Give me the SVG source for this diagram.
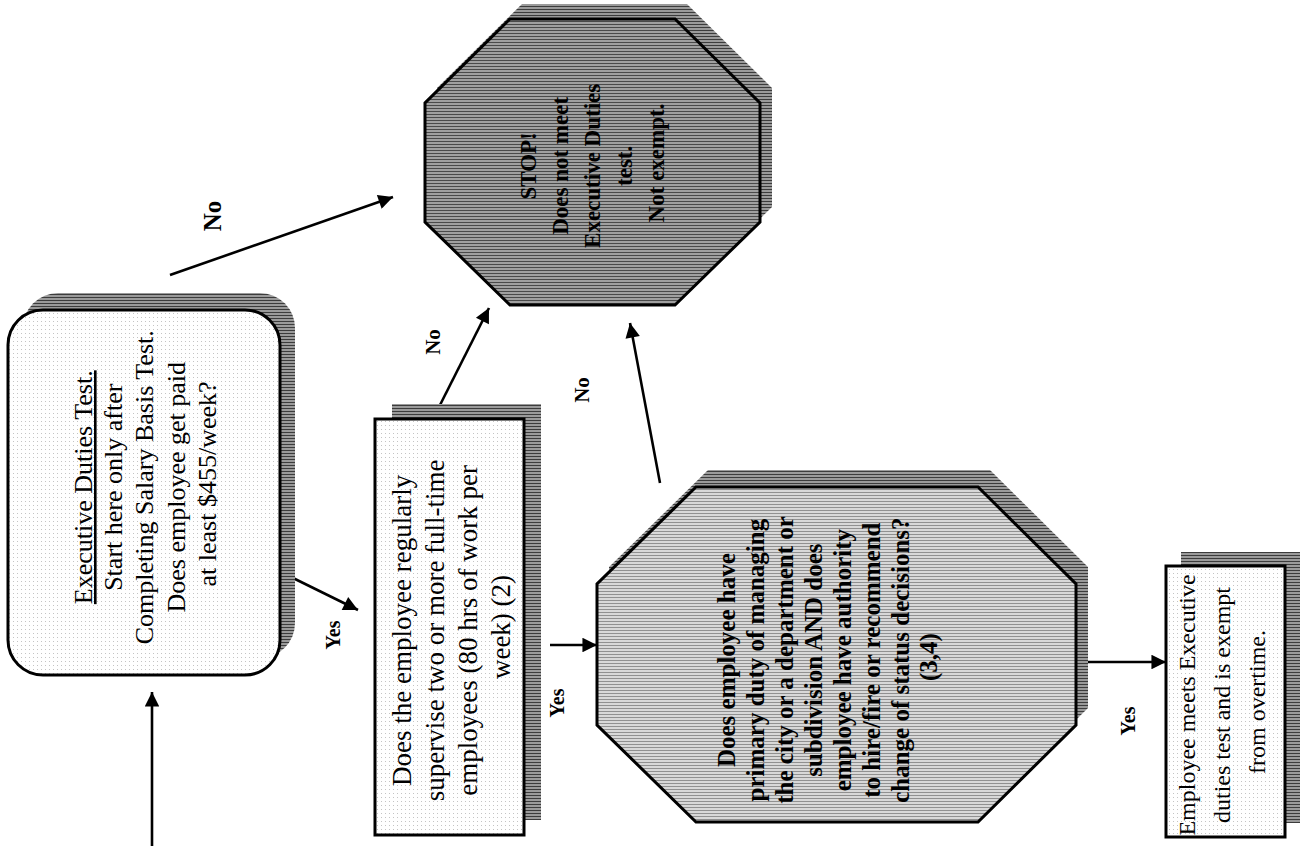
<svg xmlns="http://www.w3.org/2000/svg" width="1307" height="846" viewBox="0 0 1307 846">
<style>
  .t { font-family: "Liberation Serif", "Times New Roman", serif; fill: #000; }
  .reg { font-size: 26px; }
  .bold { font-weight: bold; }
  .lbl { font-family: "Liberation Serif", "Times New Roman", serif; font-weight: bold; fill: #000; }
  .node { stroke: #000; stroke-width: 3; }
  .conn { stroke: #000; stroke-width: 2.6; fill: none; marker-end: url(#arr); }
</style>
<defs>
  <pattern id="stip" width="4" height="4" patternUnits="userSpaceOnUse">
    <rect width="4" height="4" fill="#ffffff"/>
    <rect x="1" y="1" width="1" height="1" fill="#c4c4c4"/>
  </pattern>
  <pattern id="hatch" width="4" height="3" patternUnits="userSpaceOnUse">
    <rect width="4" height="3" fill="#d8d8d8"/>
    <rect width="4" height="1" fill="#909090"/>
  </pattern>
  <pattern id="dark" width="4" height="3" patternUnits="userSpaceOnUse">
    <rect width="4" height="3" fill="#a0a0a0"/>
    <rect width="4" height="1" fill="#4a4a4a"/>
  </pattern>
  <pattern id="shad" width="3" height="3" patternUnits="userSpaceOnUse">
    <rect width="3" height="3" fill="#9a9a9a"/>
    <rect width="3" height="1" fill="#3c3c3c"/>
  </pattern>
  <marker id="arr" viewBox="0 0 10 10" refX="10" refY="5" markerWidth="7" markerHeight="5.6" orient="auto" markerUnits="strokeWidth">
    <path d="M0,0 L10,5 L0,10 z" fill="#000"/>
  </marker>
</defs>

<g id="connectors">
  <line class="conn" x1="152" y1="846" x2="152" y2="692"/>
  <line class="conn" x1="293" y1="578" x2="358" y2="610"/>
  <line class="conn" x1="170" y1="275" x2="393" y2="197"/>
  <line class="conn" x1="440" y1="405" x2="489" y2="308"/>
  <line class="conn" x1="660" y1="483" x2="630" y2="323"/>
  <line class="conn" x1="550" y1="645" x2="597" y2="645"/>
  <line class="conn" x1="1088" y1="662" x2="1166" y2="662"/>
  <text class="lbl" font-size="25" transform="translate(221,216) rotate(-90)" text-anchor="middle">No</text>
  <text class="lbl" font-size="21" transform="translate(440,342) rotate(-90)" text-anchor="middle">No</text>
  <text class="lbl" font-size="21" transform="translate(589,390) rotate(-90)" text-anchor="middle">No</text>
  <text class="lbl" font-size="20" transform="translate(340,635) rotate(-90)" text-anchor="middle">Yes</text>
  <text class="lbl" font-size="20" transform="translate(564,703) rotate(-90)" text-anchor="middle">Yes</text>
  <text class="lbl" font-size="20" transform="translate(1135,721) rotate(-90)" text-anchor="middle">Yes</text>
</g>

<g id="node-start">
  <rect x="23" y="293" width="272" height="365" rx="35" fill="url(#shad)"/>
  <rect class="node" x="8" y="310" width="272" height="365" rx="35" fill="url(#stip)"/>
  <text class="t reg" transform="translate(150,484) rotate(-90)" text-anchor="middle">
    <tspan x="0" y="-58" text-decoration="underline">Executive Duties Test.</tspan>
    <tspan x="0" y="-28">Start here only after</tspan>
    <tspan x="0" y="3">Completing Salary Basis Test.</tspan>
    <tspan x="0" y="35">Does employee get paid</tspan>
    <tspan x="0" y="66">at least $455/week?</tspan>
  </text>
</g>

<g id="node-supervise">
  <rect x="392" y="404" width="149" height="416" fill="url(#shad)"/>
  <rect class="node" x="375" y="419" width="149" height="416" fill="url(#stip)"/>
  <text class="t" font-size="27" transform="translate(450,627) rotate(-90)" text-anchor="middle">
    <tspan x="0" y="-39">Does the employee regularly</tspan>
    <tspan x="0" y="-6">supervise two or more full-time</tspan>
    <tspan x="0" y="27">employees (80 hrs of work per</tspan>
    <tspan x="0" y="60">week) (2)</tspan>
  </text>
</g>

<g id="node-duty">
  <polygon points="708,470 990,470 1088,567 1088,708 990,805 708,805 609,708 609,567" fill="url(#shad)"/>
  <polygon class="node" points="696,487 978,487 1076,584 1076,725 978,822 696,822 597,725 597,584" fill="url(#hatch)"/>
  <text class="t bold" font-size="25" transform="translate(837,657) rotate(-90)" text-anchor="middle">
    <tspan x="0" y="-102">Does employee have</tspan>
    <tspan x="0" y="-73">primary duty of managing</tspan>
    <tspan x="0" y="-44">the city or a department or</tspan>
    <tspan x="0" y="-15">subdivision AND does</tspan>
    <tspan x="0" y="14">employee have authority</tspan>
    <tspan x="0" y="43">to hire/fire or recommend</tspan>
    <tspan x="0" y="72">change of status decisions?</tspan>
    <tspan x="0" y="100">(3,4)</tspan>
  </text>
</g>

<g id="node-stop">
  <polygon points="522,4 687,4 772,88 772,207 687,290 522,290 437,207 437,88" fill="url(#shad)"/>
  <polygon class="node" points="510,19 675,19 760,103 760,222 675,305 510,305 425,222 425,103" fill="url(#dark)"/>
  <text class="t bold" font-size="23" transform="translate(592,163) rotate(-90)" text-anchor="middle">
    <tspan x="0" y="-56">STOP!</tspan>
    <tspan x="0" y="-24">Does not meet</tspan>
    <tspan x="0" y="8">Executive Duties</tspan>
    <tspan x="0" y="40">test.</tspan>
    <tspan x="0" y="72">Not exempt.</tspan>
  </text>
</g>

<g id="node-exempt">
  <rect x="1181" y="552" width="119" height="271" fill="url(#shad)"/>
  <rect class="node" x="1166" y="566" width="119" height="271" fill="url(#stip)"/>
  <text class="t" font-size="24" transform="translate(1230,702) rotate(-90)" text-anchor="middle">
    <tspan x="0" y="-35">Employee meets Executive</tspan>
    <tspan x="0" y="0">duties test and is exempt</tspan>
    <tspan x="0" y="35">from overtime.</tspan>
  </text>
</g>
</svg>
